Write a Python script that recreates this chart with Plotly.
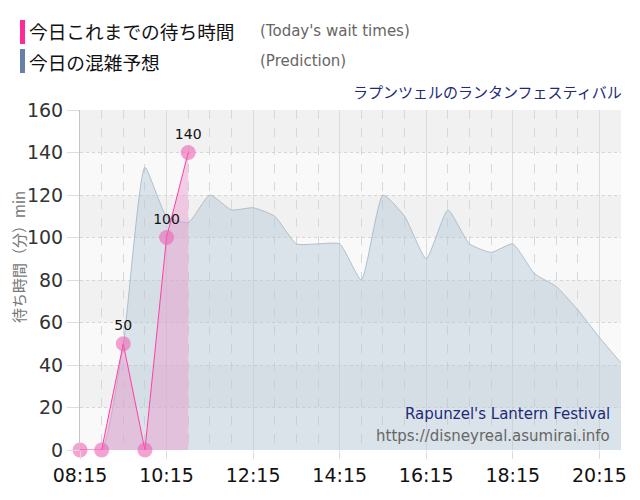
import plotly.graph_objects as go

# 30-minute steps through the day
times = ["08:15", "08:45", "09:15", "09:45", "10:15", "10:45", "11:15", "11:45",
         "12:15", "12:45", "13:15", "13:45", "14:15", "14:45", "15:15", "15:45",
         "16:15", "16:45", "17:15", "17:45", "18:15", "18:45", "19:15", "19:45",
         "20:15", "20:45"]
prediction = [0, 0, 50, 133, 110, 107, 120, 113, 114, 110, 97, 97, 97, 80,
              120, 110, 90, 113, 97, 93, 97, 83, 77, 66, 53, 41]

today_times = ["08:15", "08:45", "09:15", "09:45", "10:15", "10:45"]
today_wait = [0, 0, 50, 0, 100, 140]

tick_times = ["08:15", "10:15", "12:15", "14:15", "16:15", "18:15", "20:15"]

day = "2024-01-01 "
x_pred = [day + t for t in times]
x_today = [day + t for t in today_times]
labels = [str(v) if v > 0 else "" for v in today_wait]

JP = "Noto Sans CJK JP"
LAT = "DejaVu Sans"

fig = go.Figure()

fig.add_trace(go.Scatter(
    x=x_pred, y=prediction, mode="lines",
    line=dict(color="rgba(160,180,195,0.8)", width=1, shape="spline", smoothing=0.5),
    fill="tozeroy", fillcolor="rgba(180,200,215,0.45)",
    hoverinfo="skip", showlegend=False, cliponaxis=False))

fig.add_trace(go.Scatter(
    x=x_today, y=today_wait, mode="lines+markers+text",
    line=dict(color="#ff3fa5", width=1),
    marker=dict(size=15, color="rgba(238,100,180,0.6)"),
    fill="tozeroy", fillcolor="rgba(236,150,205,0.45)",
    text=labels, textposition="top center",
    textfont=dict(family=LAT, size=14, color="#111"),
    showlegend=False, cliponaxis=False))

# alternating bands
for lo in range(140, 0, -40):
    fig.add_shape(type="rect", xref="paper", yref="y", x0=0, x1=1, y0=lo, y1=lo + 20,
                  fillcolor="#f1f1f1", line_width=0, layer="below")

# page body has an 8px margin, so the figure is drawn 8px smaller
fig.update_layout(
    width=632, height=492,
    margin=dict(l=72, r=19, t=102, b=50),
    paper_bgcolor="white", plot_bgcolor="#f9f9f9",
    font=dict(family=LAT),
)

fig.update_xaxes(
    type="date", range=[day + "08:15", day + "20:45"],
    tickvals=[day + t for t in tick_times], ticktext=tick_times,
    tickfont=dict(family=LAT, size=19, color="#111"),
    ticks="outside", ticklen=8, tickcolor="#dddddd",
    showgrid=True, gridcolor="#dcdcdc", gridwidth=1,
    minor=dict(dtick=30 * 60 * 1000, tick0=day + "08:15", showgrid=True,
               gridcolor="#d8d8d8", griddash="dash", gridwidth=1),
    showline=False, zeroline=False, automargin=False,
)

fig.update_yaxes(
    range=[0, 160], dtick=20,
    tickfont=dict(family=LAT, size=19, color="#333"),
    ticks="outside", ticklen=12, tickcolor="#dddddd",
    showgrid=True, gridcolor="#d6d6d6", griddash="dot",
    showline=True, linecolor="#c4c4cc", zeroline=False, automargin=False,
)

def px_x(p):
    return (p - 80) / 541

def px_y(p):
    return (450 - p) / 340

# custom legend
fig.add_shape(type="rect", xref="paper", yref="paper", x0=px_x(20), x1=px_x(25),
              y0=px_y(44), y1=px_y(20), fillcolor="#ff2a95", line_width=0)
fig.add_shape(type="rect", xref="paper", yref="paper", x0=px_x(20), x1=px_x(25),
              y0=px_y(73), y1=px_y(49), fillcolor="#6a7fa8", line_width=0)

notes = [
    ("今日これまでの待ち時間", 27, 31, "left", JP, 18.7, "#111"),
    ("(Today's wait times)", 258, 31, "left", LAT, 15, "#666"),
    ("今日の混雑予想", 27, 61, "left", JP, 18.7, "#111"),
    ("(Prediction)", 258, 61, "left", LAT, 15, "#666"),
    ("ラプンツェルのランタンフェスティバル", 624, 92, "right", JP, 15, "#1e2a78"),
    ("Rapunzel's Lantern Festival", 612, 414, "right", LAT, 15, "#1e2a78"),
    ("https://disneyreal.asumirai.info", 612, 436, "right", LAT, 15, "#666"),
]
for txt, x, y, anc, fam, size, col in notes:
    fig.add_annotation(text=txt, xref="paper", yref="paper", x=px_x(x), y=px_y(y),
                       xanchor=anc, yanchor="middle", showarrow=False,
                       font=dict(family=fam, size=size, color=col))

# y-axis title
fig.add_annotation(text="待ち時間（分）min", xref="paper", yref="paper",
                   x=px_x(18), y=px_y(257), xanchor="center", yanchor="middle",
                   textangle=-90, showarrow=False,
                   font=dict(family=JP, size=15, color="#777"))

fig.write_html("out.html")
